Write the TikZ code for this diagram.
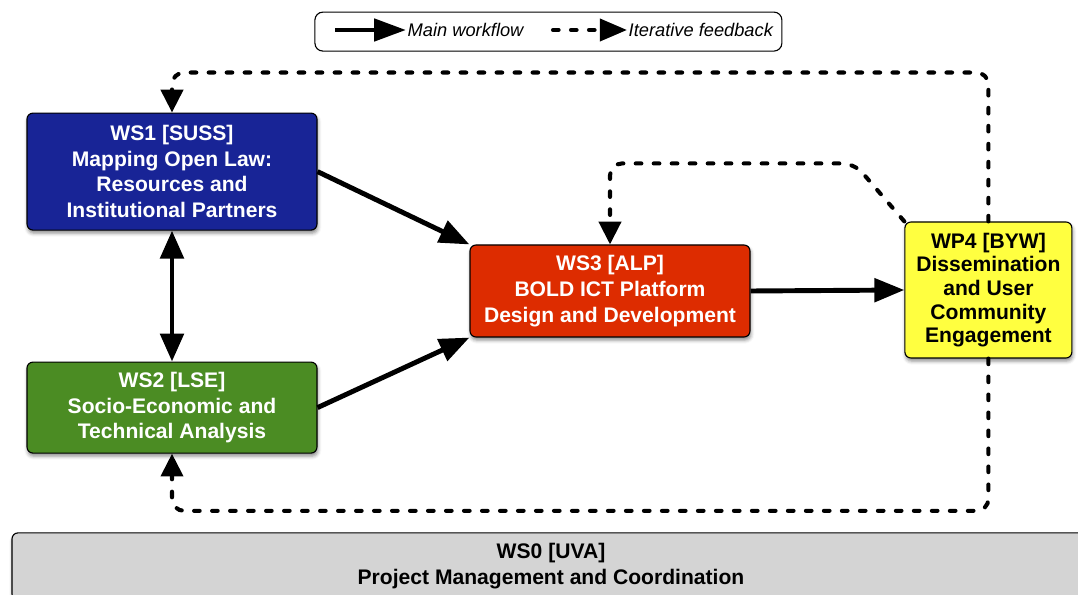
\documentclass[tikz,border=0pt]{standalone}
\usepackage{fontspec}
\setmainfont{Liberation Sans}
\usepackage{tikz}
\usetikzlibrary{arrows.meta, positioning, calc, shadows.blur}

\definecolor{wsblue}{RGB}{24,36,150}
\definecolor{wsgreen}{RGB}{75,140,35}
\definecolor{wsred}{RGB}{221,44,0}
\definecolor{wsyellow}{RGB}{255,255,64}
\definecolor{wsgrey}{RGB}{212,212,212}

\begin{document}
\begin{tikzpicture}[
    wbox/.style={
        rectangle, draw=black, line width=0.8pt, rounded corners=0.15cm,
        align=center, inner sep=2pt,
        font=\fontsize{15}{18.3}\selectfont\bfseries,
        blur shadow={shadow xshift=0.6pt, shadow yshift=-2.2pt,
                     shadow blur radius=2.5pt, shadow opacity=45}
    },
    flow/.style={line width=3.5pt, -{Triangle[length=0.75cm, width=0.58cm]}},
    twoway/.style={line width=3.5pt,
        {Triangle[length=0.7cm, width=0.58cm]}-{Triangle[length=0.7cm, width=0.58cm]}},
    fback/.style={line width=2.9pt, dash pattern=on 4pt off 8.8pt,
        line cap=round, rounded corners=0.3cm,
        -{Triangle[length=0.57cm, width=0.55cm]}},
    ltext/.style={anchor=west, inner sep=1pt,
        font=\fontsize{13}{15}\selectfont\itshape}
]

\useasboundingbox (0,0) rectangle (26.95,-14.875);

% --- Legend (top) ---
\node[draw, line width=0.8pt, rounded corners=0.2cm, fill=white,
      minimum width=11.675cm, minimum height=0.975cm] (legend) at (13.71,-0.79) {};
\coordinate (lgS) at (8.375,-0.75);
\node[ltext] (lgMain) at (10.15,-0.75) {Main workflow};
\coordinate (lgD) at (13.825,-0.75);
\node[ltext] (lgFeed) at (15.675,-0.75) {Iterative feedback};
\draw[line width=3.5pt, -{Triangle[length=0.8cm, width=0.55cm]}] (lgS) -- (lgMain.west);
\draw[line width=2.9pt, dash pattern=on 4pt off 8.8pt, line cap=round,
      -{Triangle[length=0.68cm, width=0.55cm]}] (lgD) -- (lgFeed.west);

% --- WS1 (top left) ---
\node[wbox, fill=wsblue, text=white, minimum width=7.25cm, minimum height=2.925cm]
    (WS1) at (4.3,-4.29)
    {WS1 [SUSS]\\Mapping Open Law:\\Resources and\\Institutional Partners};

% --- WS2 (bottom left) ---
\node[wbox, fill=wsgreen, text=white, minimum width=7.25cm, minimum height=2.275cm]
    (WS2) at (4.3,-10.19)
    {WS2 [LSE]\\Socio-Economic and\\Technical Analysis};

% --- WS3 (center) ---
\node[wbox, fill=wsred, text=white, minimum width=7cm, minimum height=2.3cm]
    (WS3) at (15.25,-7.275)
    {WS3 [ALP]\\BOLD ICT Platform\\Design and Development};

% --- WP4 (right) ---
\node[wbox, fill=wsyellow, text=black, minimum width=4.175cm, minimum height=3.4cm,
      font=\fontsize{15}{16.8}\selectfont\bfseries]
    (WP4) at (24.71,-7.25)
    {WP4 [BYW]\\Dissemination\\and User\\Community\\Engagement};

% --- WS0 (bottom strip) ---
\node[wbox, fill=wsgrey, text=black, minimum width=26.95cm, minimum height=1.675cm]
    (WS0) at (13.775,-14.16)
    {WS0 [UVA]\\Project Management and Coordination};

% --- Feedback loops out of WP4 ---
\draw[fback] (WP4.north) |- ([yshift=1cm]WS1.north) -- (WS1.north);
\draw[fback] (WP4.south) |- ([yshift=-1.43cm]WS2.south) -- (WS2.south);
\draw[fback] (WP4.north west) -- ++(-1.25,1.45) -| (WS3.north);

% --- Main workflow ---
\draw[twoway] (WS1.south) -- (WS2.north);
\draw[flow] (WS1.east) -- (WS3.north west);
\draw[flow] (WS2.east) -- (WS3.south west);
\draw[flow] (WS3.east) -- (WP4.west);

\end{tikzpicture}
\end{document}
